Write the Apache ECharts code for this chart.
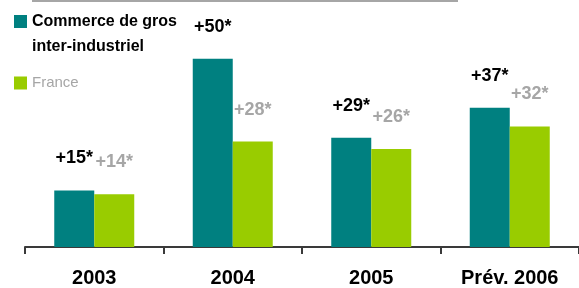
<!DOCTYPE html>
<html>
<head>
<meta charset="UTF-8">
<title>Commerce de gros</title>
<style>
  html, body { margin: 0; padding: 0; background: #fff; }
  #chart { width: 579px; height: 288px; }
</style>
</head>
<body>
<div id="chart"></div>
<script src="https://cdn.jsdelivr.net/npm/echarts@6/dist/echarts.min.js"></script>
<script type="text/javascript">
var categories = ['2003', '2004', '2005', 'Prév. 2006'];
var commerceValues = [15, 50, 29, 37];
var franceValues = [14, 28, 26, 32];
var seriesNames = ['Commerce de gros inter-industriel', 'France'];

var font = "'Liberation Sans', Arial, sans-serif";

var myChart = echarts.init(document.getElementById('chart'));

function labelFormatter(p) {
	return '+' + p.value + '*';
}

var option = {
	animation: false,
	grid: {
		left: 25,
		right: -6,
		top: 21,
		bottom: 41
	},
	legend: {
		orient: 'vertical',
		left: 14,
		top: 9,
		padding: 0,
		itemWidth: 13,
		itemHeight: 50,
		itemGap: -1,
		selectedMode: false,
		formatter: function(name) {
			if (name === seriesNames[0]) return 'Commerce de gros\ninter-industriel';
			return name;
		},
		textStyle: {
			fontFamily: font,
			fontSize: 16,
			lineHeight: 25
		},
		data: [{
			name: seriesNames[0],
			icon: 'path://M0,0L0,0.01M0,6H13V19H0ZM0,49.99L0,50',
			textStyle: { color: '#000', fontWeight: 'bold', fontFamily: font, fontSize: 16, lineHeight: 25 }
		}, {
			name: seriesNames[1],
			icon: 'path://M0,0L0,0.01M0,18.5H13V31.5H0ZM0,49.99L0,50',
			textStyle: { color: '#a6a6a6', fontWeight: 'normal', fontFamily: font, fontSize: 15, lineHeight: 25 }
		}]
	},
	xAxis: {
		type: 'category',
		data: categories,
		axisLine: {
			lineStyle: { color: '#3a3a3a', width: 2 }
		},
		axisTick: {
			show: true,
			length: 7,
			lineStyle: { color: '#3a3a3a', width: 2 }
		},
		axisLabel: {
			interval: 0,
			margin: 21,
			color: '#000',
			fontFamily: font,
			fontWeight: 'bold',
			fontSize: 20
		}
	},
	yAxis: {
		type: 'value',
		min: 0,
		max: 60,
		show: false,
		splitLine: { show: false }
	},
	series: [{
		name: seriesNames[0],
		type: 'bar',
		data: commerceValues,
		barWidth: 40,
		barGap: '0%',
		itemStyle: { color: '#008080' },
		label: {
			show: true,
			position: 'top',
			distance: 23,
			formatter: labelFormatter,
			color: '#000',
			fontFamily: font,
			fontWeight: 'bold',
			fontSize: 18
		}
	}, {
		name: seriesNames[1],
		type: 'bar',
		data: franceValues,
		barWidth: 40,
		itemStyle: { color: '#99cc00' },
		label: {
			show: true,
			position: 'top',
			distance: 23,
			formatter: labelFormatter,
			color: '#a6a6a6',
			fontFamily: font,
			fontWeight: 'bold',
			fontSize: 18
		}
	}],
	graphic: [{
		// trait gris en haut
		type: 'line',
		shape: { x1: 32, y1: 1, x2: 458, y2: 1 },
		style: { stroke: '#a6a6a6', lineWidth: 2 }
	}]
};

myChart.setOption(option);
</script>
</body>
</html>
